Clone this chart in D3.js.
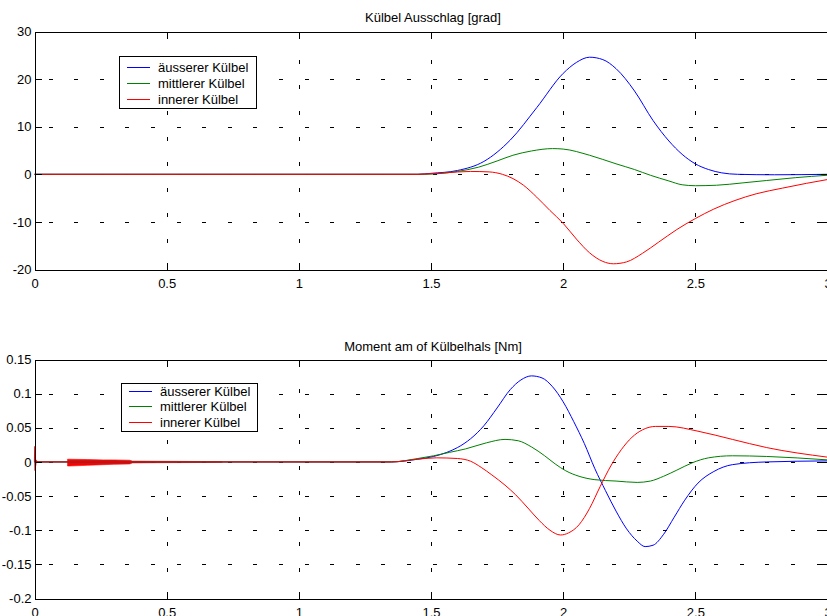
<!DOCTYPE html>
<html>
<head>
<meta charset="utf-8">
<script src="https://cdn.jsdelivr.net/npm/d3@7"></script>
<style>
body { margin: 0; background: #fff; }
svg { display: block; font-family: "Liberation Sans", Arial, Helvetica, sans-serif; }
</style>
</head>
<body>
<div class="chart"></div>
<script>
var width = 827, height = 616;

// tick values
var xTicks = [0, 0.5, 1, 1.5, 2, 2.5, 3];
var angleTicks = [-20, -10, 0, 10, 20, 30];
var momentTicks = [-0.2, -0.15, -0.1, -0.05, 0, 0.05, 0.1, 0.15];

var seriesNames = ["äusserer Külbel", "mittlerer Külbel", "innerer Külbel"];
var seriesColors = ["#0000ff", "#008000", "#ff0000"];

// Külbel Ausschlag [grad]  -- [t, value]
var angleOuter = [[0,0],[1.45,0],[1.5,0.2],[1.6,0.8],[1.7,2.7],[1.8,7.2],[1.9,14.0],[2.0,21.2],[2.05,23.5],
  [2.1,24.6],[2.15,24.1],[2.2,22.2],[2.27,17.5],[2.34,11.3],[2.4,7.0],[2.45,4.2],[2.5,2.2],[2.55,1.0],
  [2.6,0.3],[2.66,0.0],[2.8,-0.1],[3.0,0]];
var angleMiddle = [[0,0],[1.45,0],[1.52,0.1],[1.6,0.6],[1.68,1.5],[1.75,2.8],[1.81,4.0],[1.88,4.9],[1.96,5.4],
  [2.0,5.3],[2.1,4.0],[2.2,2.2],[2.27,1.0],[2.33,-0.2],[2.4,-1.4],[2.45,-2.2],[2.5,-2.4],[2.58,-2.3],
  [2.68,-1.8],[2.77,-1.3],[2.88,-0.7],[3.0,-0.2]];
var angleInner = [[0,0],[1.45,0],[1.55,0.3],[1.65,0.6],[1.72,0.5],[1.77,0],[1.81,-0.9],[1.85,-2.3],[1.9,-4.8],
  [1.95,-7.6],[2.0,-10.3],[2.05,-13.6],[2.1,-16.5],[2.15,-18.3],[2.19,-18.8],[2.24,-18.4],[2.3,-16.6],
  [2.36,-14.3],[2.43,-11.6],[2.5,-9.3],[2.57,-7.3],[2.65,-5.5],[2.73,-4.1],[2.83,-2.9],[2.92,-1.9],[3.0,-1.1]];

// Moment am of Külbelhals [Nm]
var momentOuter = [[0,0],[1.35,0],[1.45,0.004],[1.51,0.008],[1.56,0.014],[1.6,0.021],[1.65,0.034],[1.7,0.053],
  [1.75,0.079],[1.8,0.106],[1.84,0.120],[1.88,0.126],[1.92,0.123],[1.96,0.110],[2.0,0.088],[2.04,0.059],
  [2.08,0.027],[2.12,-0.010],[2.16,-0.042],[2.2,-0.072],[2.24,-0.098],[2.28,-0.116],[2.31,-0.124],
  [2.34,-0.122],[2.38,-0.106],[2.42,-0.081],[2.46,-0.056],[2.51,-0.031],[2.57,-0.014],[2.64,-0.004],
  [2.77,0],[3.0,0.0015]];
var momentMiddle = [[0,0],[1.35,0],[1.45,0.005],[1.51,0.009],[1.57,0.014],[1.63,0.019],[1.71,0.028],[1.78,0.033],
  [1.83,0.031],[1.88,0.022],[1.93,0.009],[1.97,-0.003],[2.01,-0.013],[2.06,-0.021],[2.12,-0.026],
  [2.2,-0.028],[2.28,-0.030],[2.33,-0.028],[2.38,-0.021],[2.43,-0.012],[2.49,-0.001],[2.55,0.006],
  [2.64,0.009],[2.77,0.008],[3.0,0.003]];
var momentInner = [[0,0],[1.35,0],[1.45,0.004],[1.52,0.006],[1.6,0.005],[1.65,0.001],[1.69,-0.008],[1.73,-0.019],
  [1.78,-0.034],[1.82,-0.048],[1.87,-0.069],[1.91,-0.086],[1.95,-0.100],[1.99,-0.107],[2.02,-0.104],
  [2.06,-0.092],[2.10,-0.068],[2.14,-0.036],[2.18,-0.006],[2.22,0.018],[2.26,0.036],[2.3,0.047],
  [2.35,0.052],[2.4,0.052],[2.51,0.045],[2.64,0.033],[2.77,0.021],[3.0,0.007]];
// start-up spike and ringing of the inner moment
var momentSpike = [[0,0],[0.001,0.023],[0.002,-0.013],[0.003,0.012],[0.004,-0.006],[0.006,0.002],[0.01,0]];
var ringT  = [0.125, 0.13, 0.2, 0.26, 0.3, 0.36, 0.37, 0.45, 0.55, 0.65, 0.71];
var ringHi = [0.004, 0.004, 0.0035, 0.003, 0.003, 0.0025, 0.0012, 0.001, 0.0008, 0.0006, 0.0003];
var ringLo = [-0.006, -0.006, -0.005, -0.004, -0.0035, -0.003, -0.0015, -0.0012, -0.001, -0.0008, -0.0003];

var svg = d3.select(".chart").append("svg")
    .attr("width", width)
    .attr("height", height);

var x = d3.scaleLinear().domain([0, 3]).range([34.5, 827.5]);

function drawPanel(p) {
  var y = d3.scaleLinear().domain(p.yDomain).range([p.bottom, p.top]);
  var g = svg.append("g");

  // dotted grid
  g.selectAll(".hgrid")
    .data(p.yTicks.slice(1, -1))
    .enter().append("line")
    .attr("class", "hgrid")
    .attr("x1", x(0)).attr("x2", x(3))
    .attr("y1", d => Math.round(y(d)) + 0.5)
    .attr("y2", d => Math.round(y(d)) + 0.5)
    .attr("stroke", "#000")
    .attr("stroke-dasharray", "4,21.6")
    .attr("stroke-dashoffset", -14)
    .attr("shape-rendering", "crispEdges");

  g.selectAll(".vgrid")
    .data(xTicks.slice(1, -1))
    .enter().append("line")
    .attr("class", "vgrid")
    .attr("x1", d => Math.round(x(d)) + 0.5)
    .attr("x2", d => Math.round(x(d)) + 0.5)
    .attr("y1", p.bottom).attr("y2", p.top)
    .attr("stroke", "#000")
    .attr("stroke-dasharray", "4,21.6")
    .attr("stroke-dashoffset", -1)
    .attr("shape-rendering", "crispEdges");

  var curve = d3.line()
    .x(d => x(d[0]))
    .y(d => y(d[1]))
    .curve(d3.curveMonotoneX);

  if (p.extra) p.extra(g, y);

  p.series.forEach(function(s, i) {
    g.append("path")
      .datum(s)
      .attr("fill", "none")
      .style("stroke", seriesColors[i])
      .style("stroke-width", 1)
      .attr("d", curve);
  });

  // box with inward ticks
  var fmt = d => String(d);
  g.append("g")
    .attr("transform", "translate(0," + p.bottom + ")")
    .call(d3.axisBottom(x).tickValues(xTicks).tickFormat(fmt).tickSizeInner(-7).tickSizeOuter(0).tickPadding(9));
  g.append("g")
    .attr("transform", "translate(0," + p.top + ")")
    .call(d3.axisTop(x).tickValues(xTicks).tickFormat("").tickSizeInner(-7).tickSizeOuter(0));
  g.append("g")
    .attr("transform", "translate(" + x(0) + ",0)")
    .call(d3.axisLeft(y).tickValues(p.yTicks).tickFormat(fmt).tickSizeInner(-7).tickSizeOuter(0).tickPadding(3));
  g.append("g")
    .attr("transform", "translate(" + x(3) + ",0)")
    .call(d3.axisRight(y).tickValues(p.yTicks).tickFormat("").tickSizeInner(-7).tickSizeOuter(0));

  g.selectAll(".domain").attr("stroke", "#000").attr("shape-rendering", "crispEdges");
  g.selectAll(".tick line").attr("stroke", "#000").attr("shape-rendering", "crispEdges");
  g.selectAll(".tick text")
    .attr("fill", "#000")
    .style("font-size", "13px")
    .style("font-family", "'Liberation Sans', Arial, Helvetica, sans-serif");

  g.append("text")
    .attr("x", 433)
    .attr("y", p.titleY)
    .attr("text-anchor", "middle")
    .style("font-size", "13px")
    .text(p.title);

  // legend
  var lg = svg.append("g").attr("transform", "translate(" + p.legend.x + "," + p.legend.y + ")");
  lg.append("rect")
    .attr("x", 0.5).attr("y", 0.5)
    .attr("width", p.legend.w).attr("height", p.legend.h)
    .attr("fill", "#fff").attr("stroke", "#000")
    .attr("shape-rendering", "crispEdges");
  var rows = lg.selectAll(".entry")
    .data(seriesNames)
    .enter().append("g")
    .attr("class", "entry")
    .attr("transform", (d, i) => "translate(0," + p.legend.rows[i] + ")");
  rows.append("rect")
    .attr("x", 8).attr("y", 0)
    .attr("width", 23).attr("height", 1)
    .style("fill", (d, i) => seriesColors[i]);
  rows.append("text")
    .attr("x", 39).attr("y", 4.5)
    .style("font-size", "13px")
    .text(d => d);
}

drawPanel({
  yDomain: [-20, 30], yTicks: angleTicks,
  top: 31.5, bottom: 269.5,
  title: "Külbel Ausschlag [grad]", titleY: 22,
  series: [angleOuter, angleMiddle, angleInner],
  legend: { x: 119, y: 56, w: 137, h: 52, rows: [11, 27, 43] }
});

drawPanel({
  yDomain: [-0.2, 0.15], yTicks: momentTicks,
  top: 359.5, bottom: 598.5,
  title: "Moment am of Külbelhals [Nm]", titleY: 351,
  series: [momentOuter, momentMiddle, momentInner],
  legend: { x: 121, y: 383, w: 136, h: 48, rows: [8, 23, 39] },
  extra: function(g, y) {
    var ring = ringT.map((t, i) => [t, ringHi[i], ringLo[i]]);
    g.append("path")
      .datum(ring)
      .attr("fill", "#ff0000")
      .attr("stroke", "#ff0000")
      .attr("stroke-width", 0.6)
      .attr("d", d3.area().x(d => x(d[0])).y0(d => y(d[2])).y1(d => y(d[1])));
    g.append("path")
      .datum(momentSpike)
      .attr("fill", "none")
      .attr("stroke", "#ff0000")
      .attr("stroke-width", 1.2)
      .attr("d", d3.line().x(d => x(d[0])).y(d => y(d[1])));
  }
});
</script>
</body>
</html>
